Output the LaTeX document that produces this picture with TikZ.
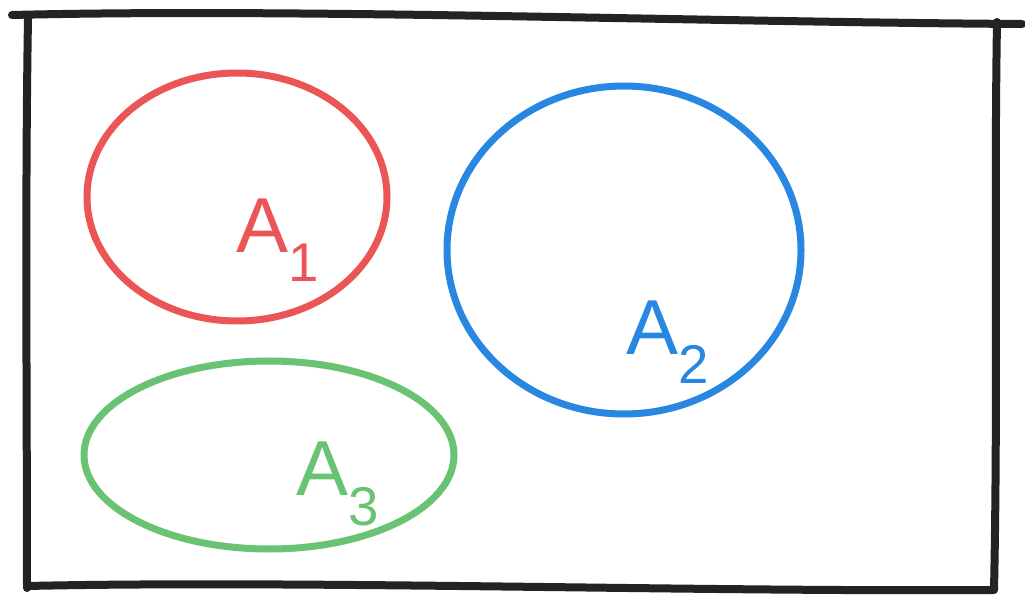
\documentclass[tikz,border=0pt]{standalone}
\usepackage{fontspec}
\setmainfont{Liberation Sans}
\usetikzlibrary{shapes.geometric}
\definecolor{setred}{RGB}{235,85,85}
\definecolor{setblue}{RGB}{40,135,225}
\definecolor{setgreen}{RGB}{105,195,115}
\definecolor{frameblack}{RGB}{35,35,38}
\tikzset{
  frame/.style={draw=frameblack,line width=8pt,line cap=round,line join=round},
  setline/.style={line width=7pt,line cap=round},
  lab/.style={font=\fontsize{78}{78}\selectfont},
}
\begin{document}
\begin{tikzpicture}[x=1pt,y=-1pt]
\useasboundingbox (0,0) rectangle (1025,601);
% frame
\draw[frame] (12,15) .. controls (300,8) and (700,22) .. (1022,24);
\draw[frame] (28,18) .. controls (25,200) and (27,400) .. (27,588);
\draw[frame] (27,586) .. controls (300,580) and (700,592) .. (993,590);
\draw[frame] (997,22) .. controls (994,200) and (998,400) .. (994,590);
% sets
\draw[setline,setred] (237,197) ellipse [x radius=150, y radius=124];
\draw[setline,setblue] (624,250) ellipse [x radius=177, y radius=164];
\draw[setline,setgreen] (269,455) ellipse [x radius=185, y radius=94];
% labels
\node[lab,text=setred] (a1) at (278,240) {A\textsubscript{1}};
\node[lab,text=setblue] (a2) at (668,342) {A\textsubscript{2}};
\node[lab,text=setgreen] (a3) at (338,484) {A\textsubscript{3}};
\end{tikzpicture}
\end{document}
